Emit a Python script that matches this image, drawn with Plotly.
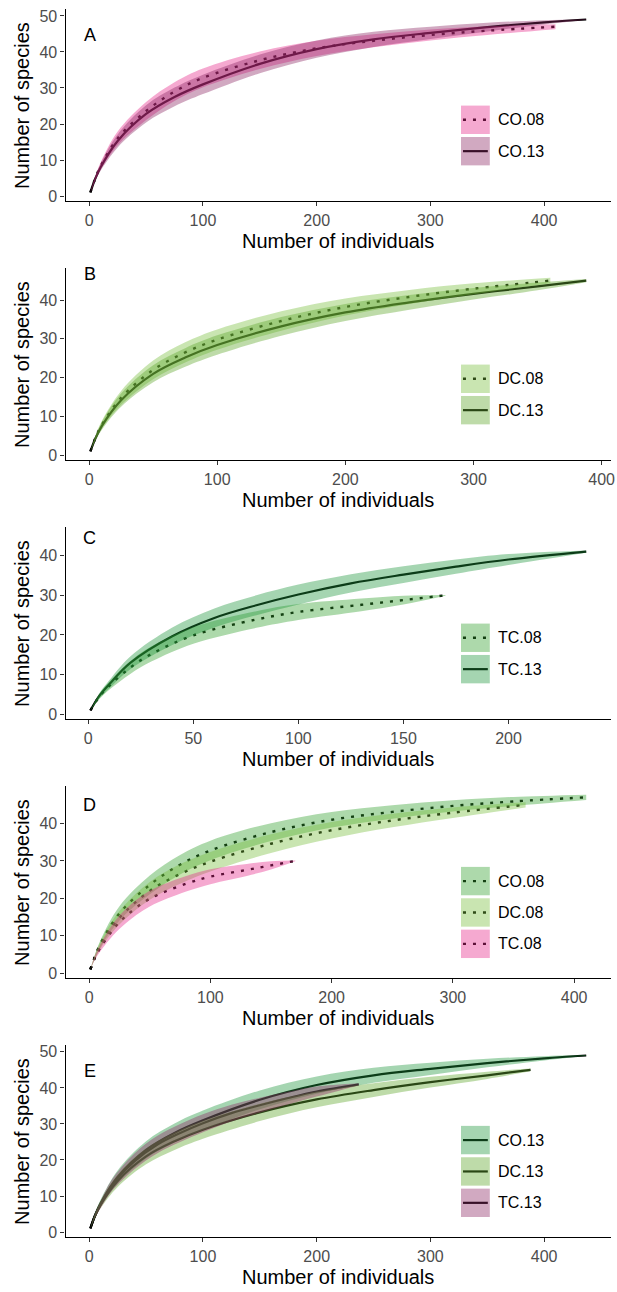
import plotly.graph_objects as go

W, H = 617, 1292

# ---------------- data ----------------
co08_n = [1, 5, 10, 25, 50, 75, 100, 150, 200, 250, 300, 350, 410]
co08_s = [1, 4.6, 8.3, 16.0, 23.6, 29.0, 32.8, 37.7, 41.0, 43.1, 44.7, 45.9, 47.0]
co08_h = [0, 0.6, 1.0, 1.9, 2.5, 2.6, 2.6, 2.4, 2.1, 1.8, 1.5, 1.2, 0.7]

co13_n = [1, 5, 10, 25, 50, 75, 100, 150, 200, 250, 300, 350, 400, 437]
co13_s = [1, 4.6, 8.0, 15.3, 22.8, 27.5, 31.0, 36.7, 40.8, 43.5, 45.3, 46.9, 48.2, 49.0]
co13_h = [0, 0.6, 1.0, 1.8, 2.4, 2.6, 2.7, 2.6, 2.4, 2.1, 1.7, 1.2, 0.6, 0.1]

dc08_n = [1, 5, 10, 25, 50, 75, 100, 150, 200, 250, 300, 360]
dc08_s = [1, 4.5, 7.9, 14.8, 22.0, 26.5, 29.8, 34.6, 38.2, 40.8, 42.9, 45.0]
dc08_h = [0, 0.6, 1.0, 1.8, 2.4, 2.6, 2.6, 2.5, 2.2, 1.8, 1.4, 0.7]

dc13_n = [1, 5, 10, 25, 50, 75, 100, 150, 200, 250, 300, 350, 388]
dc13_s = [1, 4.4, 7.6, 14.2, 21.0, 25.2, 28.4, 33.2, 36.8, 39.4, 41.6, 43.5, 45.0]
dc13_h = [0, 0.6, 1.0, 1.7, 2.2, 2.4, 2.5, 2.4, 2.2, 1.9, 1.5, 1.0, 0.4]

tc08_n = [1, 5, 10, 20, 30, 50, 80, 100, 130, 150, 170]
tc08_s = [1, 4.3, 7.2, 11.8, 15.2, 19.9, 23.9, 25.8, 27.6, 28.8, 30.0]
tc08_h = [0, 0.6, 1.0, 1.6, 1.9, 2.1, 2.1, 2.0, 1.6, 1.1, 0.1]

tc13_n = [1, 5, 10, 20, 40, 60, 80, 100, 125, 150, 175, 200, 237]
tc13_s = [1, 4.5, 7.6, 13.0, 19.7, 24.3, 27.5, 30.2, 33.0, 35.2, 37.2, 39.0, 41.0]
tc13_h = [0, 0.6, 1.0, 1.6, 2.2, 2.4, 2.5, 2.5, 2.3, 2.1, 1.8, 1.4, 0.3]

series = {
    "CO.08": (co08_n, co08_s, co08_h),
    "CO.13": (co13_n, co13_s, co13_h),
    "DC.08": (dc08_n, dc08_s, dc08_h),
    "DC.13": (dc13_n, dc13_s, dc13_h),
    "TC.08": (tc08_n, tc08_s, tc08_h),
    "TC.13": (tc13_n, tc13_s, tc13_h),
}

panel_letters = ["A", "B", "C", "D", "E"]
panel_series = [["CO.08", "CO.13"], ["DC.08", "DC.13"], ["TC.08", "TC.13"],
                ["CO.08", "DC.08", "TC.08"], ["CO.13", "DC.13", "TC.13"]]
x_ticks = [[0, 100, 200, 300, 400], [0, 100, 200, 300, 400], [0, 50, 100, 150, 200],
           [0, 100, 200, 300, 400], [0, 100, 200, 300, 400]]
y_ticks = [[0, 10, 20, 30, 40, 50], [0, 10, 20, 30, 40], [0, 10, 20, 30, 40],
           [0, 10, 20, 30, 40], [0, 10, 20, 30, 40, 50]]
# y limits of each panel (before the 5 % expansion)
y_limits = [(1, 49.5), (1, 46.0), (1, 45.0), (1, 47.7), (1, 49.5)]

# ---------------- styles ----------------
PINK = "rgba(231,41,138,0.40)"
MAUVE = "rgba(140,40,100,0.40)"
GREEN_D = "rgba(51,160,44,0.40)"
GREEN_T = "rgba(30,150,60,0.40)"
GREEN_L = "rgba(120,190,60,0.40)"
GREEN_M = "rgba(100,170,50,0.42)"
panel_colors = [[PINK, MAUVE], [GREEN_L, GREEN_M], [GREEN_D, GREEN_T],
                [GREEN_D, GREEN_L, PINK], [GREEN_T, GREEN_M, MAUVE]]
DOT = "3px,7px"
letter_y = [34, 14, 19, 27, 34]

FONT = "Liberation Sans, Arial, sans-serif"


def px(x):
    return x / W


def py(y):
    return 1 - y / H


fig = go.Figure()
shapes, annotations = [], []

for i, names in enumerate(panel_series):
    top = 260 * i
    xa = "x" if i == 0 else f"x{i+1}"
    ya = "y" if i == 0 else f"y{i+1}"
    xkey = "xaxis" if i == 0 else f"xaxis{i+1}"
    ykey = "yaxis" if i == 0 else f"yaxis{i+1}"

    # lines first (ribbons drawn on top with alpha, as in the original)
    allx = []
    for nm in names:
        n, s, h = series[nm]
        dotted = nm.endswith(".08")
        fig.add_trace(go.Scatter(x=n, y=s, mode="lines", xaxis=xa, yaxis=ya,
                                 line=dict(color="black", width=2.4 if dotted else 2.2,
                                           dash=DOT if dotted else "solid",
                                           shape="spline", smoothing=1.0),
                                 showlegend=False, hoverinfo="skip"))
        allx += n
    for nm, col in zip(names, panel_colors[i]):
        n, s, h = series[nm]
        lo = [a - b for a, b in zip(s, h)]
        hi = [a + b for a, b in zip(s, h)]
        fig.add_trace(go.Scatter(x=n, y=lo, mode="lines", xaxis=xa, yaxis=ya,
                                 line=dict(width=0, shape="spline", smoothing=1.0),
                                 showlegend=False, hoverinfo="skip"))
        fig.add_trace(go.Scatter(x=n, y=hi, mode="lines", xaxis=xa, yaxis=ya, fill="tonexty",
                                 fillcolor=col,
                                 line=dict(width=0, shape="spline", smoothing=1.0),
                                 showlegend=False, hoverinfo="skip"))

    xmin, xmax = min(allx), max(allx)
    ymin, ymax = y_limits[i]
    xp, yp = (xmax - xmin) * 0.05, (ymax - ymin) * 0.05

    axis_common = dict(showline=True, linecolor="black", linewidth=1.3, ticks="outside",
                       ticklen=4, tickwidth=1.2, tickcolor="#333333", showgrid=False,
                       zeroline=False, ticklabeloverflow="allow",
                       tickfont=dict(size=16, color="#4D4D4D", family=FONT))
    fig.layout[xkey] = dict(axis_common, domain=[px(66), px(615)], anchor=ya,
                            range=[xmin - xp, xmax + xp], tickvals=x_ticks[i])
    fig.layout[ykey] = dict(axis_common, domain=[py(top + 201), py(top + 8)], anchor=xa,
                            range=[ymin - yp, ymax + yp], tickvals=y_ticks[i])

    # titles
    annotations.append(dict(text="Number of individuals", x=px(340.5), y=py(top + 240.5),
                            xref="paper", yref="paper", showarrow=False,
                            font=dict(size=20, color="black", family=FONT),
                            xanchor="center", yanchor="middle"))
    annotations.append(dict(text="Number of species", x=px(22), y=py(top + 104.5),
                            xref="paper", yref="paper", showarrow=False, textangle=-90,
                            font=dict(size=20, color="black", family=FONT),
                            xanchor="center", yanchor="middle"))
    annotations.append(dict(text=panel_letters[i], x=px(90.5), y=py(top + letter_y[i]),
                            xref="paper", yref="paper", showarrow=False,
                            font=dict(size=18, color="black", family=FONT),
                            xanchor="center", yanchor="middle"))

    # legend
    k = len(names)
    for j, (nm, col) in enumerate(zip(names, panel_colors[i])):
        cy = top + 135 + (j - (k - 1) / 2) * 31.5
        dotted = nm.endswith(".08")
        shapes.append(dict(type="line", xref="paper", yref="paper", x0=px(466), x1=px(491),
                           y0=py(cy), y1=py(cy), layer="above",
                           line=dict(color="black", width=2.4 if dotted else 2.2,
                                     dash=DOT if dotted else "solid")))
        shapes.append(dict(type="rect", xref="paper", yref="paper", x0=px(464), x1=px(493),
                           y0=py(cy + 14.25), y1=py(cy - 14.25), layer="above",
                           fillcolor=col, line=dict(width=0)))
        annotations.append(dict(text=nm, x=px(499), y=py(cy), xref="paper", yref="paper",
                                showarrow=False, xanchor="left", yanchor="middle",
                                font=dict(size=16, color="black", family=FONT)))

fig.update_layout(width=W, height=H, margin=dict(l=0, r=0, t=0, b=0),
                  paper_bgcolor="white", plot_bgcolor="white", showlegend=False,
                  shapes=shapes, annotations=annotations, font=dict(family=FONT))
fig.write_html("out.html")
